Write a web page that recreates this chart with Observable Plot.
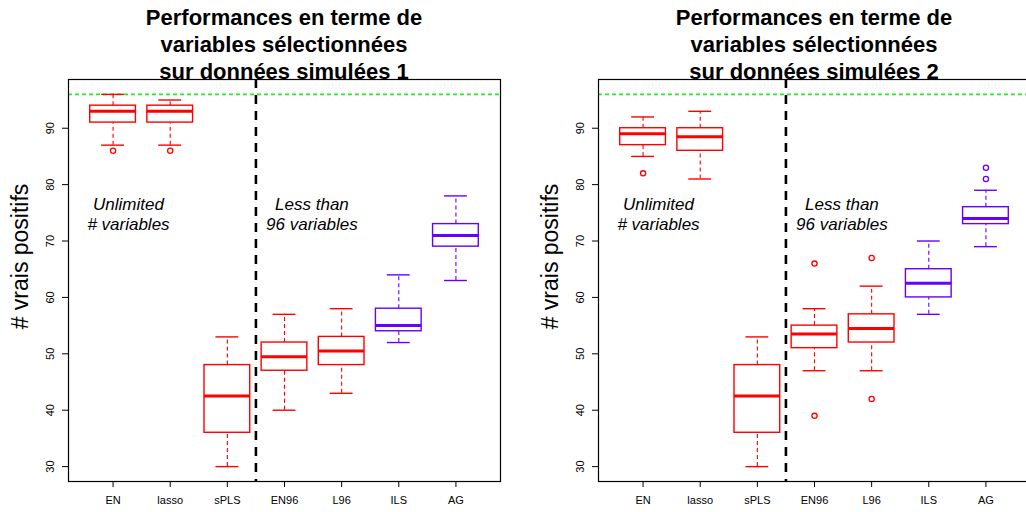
<!DOCTYPE html>
<html><head><meta charset="utf-8">
<script src="https://cdn.jsdelivr.net/npm/d3@7"></script>
<script src="https://cdn.jsdelivr.net/npm/@observablehq/plot@0.6"></script>
<style>
html,body{margin:0;padding:0;background:#fff;}
body{width:1026px;height:512px;overflow:hidden;position:relative;font-family:"Liberation Sans",Arial,Helvetica,sans-serif;}
.panel{position:absolute;top:0;}
.title{position:absolute;top:4px;font-weight:bold;font-size:22px;line-height:27px;text-align:center;white-space:nowrap;transform:translateX(-50%);color:#000;z-index:2;}
svg{display:block;max-width:none !important;}
</style></head><body>
<div id="p1" class="panel" style="left:0px;width:513px"></div>
<div id="p2" class="panel" style="left:513px;width:520px"></div>
<div class="title" style="left:284px">Performances en terme de<br>variables sélectionnées<br>sur données simulées 1</div>
<div class="title" style="left:814px">Performances en terme de<br>variables sélectionnées<br>sur données simulées 2</div>
<script>
// ---- data ----
const categories = ["EN", "lasso", "sPLS", "EN96", "L96", "ILS", "AG"];
const boxColors = ["#ff0000", "#ff0000", "#ff0000", "#ff0000", "#ff0000", "#6600ff", "#6600ff"];
const yTicks = [30, 40, 50, 60, 70, 80, 90];
const threshold = 96;
const yLabel = "# vrais positifs";
const noteLeft = "Unlimited\n# variables";
const noteRight = "Less than\n96 variables";

// simulated data 1
const lower1  = [87, 87, 30, 40, 43, 52, 63];
const q1_1    = [91, 91, 36, 47, 48, 54, 69];
const median1 = [93, 93, 42.5, 49.5, 50.5, 55, 71];
const q3_1    = [94, 94, 48, 52, 53, 58, 73];
const upper1  = [96, 95, 53, 57, 58, 64, 78];
const outliers1 = [[86], [86], [], [], [], [], []];

// simulated data 2
const lower2  = [85, 81, 30, 47, 47, 57, 69];
const q1_2    = [87, 86, 36, 51, 52, 60, 73];
const median2 = [89, 88.5, 42.5, 53.5, 54.5, 62.5, 74];
const q3_2    = [90, 90, 48, 55, 57, 65, 76];
const upper2  = [92, 93, 53, 58, 62, 70, 79];
const outliers2 = [[82], [], [], [39, 66], [42, 67], [], [81, 83]];

const FONT = '"Liberation Sans", Arial, Helvetica, sans-serif';

function makePanel(el, lower, q1, median, q3, upper, outliers, width, marginLeft, marginRight) {
  const rows = categories.map((c, i) => ({
    pos: i + 1, cat: c, lo: lower[i], q1: q1[i], med: median[i], q3: q3[i], hi: upper[i], color: boxColors[i]
  }));
  const outRows = [];
  outliers.forEach((arr, i) => arr.forEach(v => outRows.push({pos: i + 1, v, color: boxColors[i]})));
  const positions = categories.map((c, i) => i + 1);
  const sepPos = 3.5;
  const boxHalf = 0.4, stapleHalf = 0.2;

  const chart = Plot.plot({
    width, height: 512,
    marginLeft, marginRight, marginTop: 79, marginBottom: 31,
    x: {domain: [0.22, 7.78]},
    y: {domain: [27.36, 98.64]},
    color: {type: "identity"},
    style: {fontFamily: FONT, fontSize: "11px", background: "white", color: "black", maxWidth: "none"},
    marks: [
      Plot.ruleY([threshold], {stroke: "#22ee22", strokeWidth: 1.6, strokeDasharray: "4,3"}),
      Plot.ruleX([sepPos], {stroke: "#000", strokeWidth: 2.6, strokeDasharray: "9,7"}),
      // whiskers
      Plot.ruleX(rows, {x: "pos", y1: "q3", y2: "hi", stroke: "color", strokeWidth: 1.1, strokeDasharray: "4,3"}),
      Plot.ruleX(rows, {x: "pos", y1: "lo", y2: "q1", stroke: "color", strokeWidth: 1.1, strokeDasharray: "4,3"}),
      // staples
      Plot.ruleY(rows, {y: "hi", x1: d => d.pos - stapleHalf, x2: d => d.pos + stapleHalf, stroke: "color", strokeWidth: 1.4}),
      Plot.ruleY(rows, {y: "lo", x1: d => d.pos - stapleHalf, x2: d => d.pos + stapleHalf, stroke: "color", strokeWidth: 1.4}),
      // boxes
      Plot.rect(rows, {x1: d => d.pos - boxHalf, x2: d => d.pos + boxHalf, y1: "q1", y2: "q3", fill: "white", stroke: "color", strokeWidth: 1.4}),
      // medians
      Plot.ruleY(rows, {y: "med", x1: d => d.pos - boxHalf, x2: d => d.pos + boxHalf, stroke: "color", strokeWidth: 3}),
      // outliers
      Plot.dot(outRows, {x: "pos", y: "v", r: 2.6, stroke: "color", strokeWidth: 1.3, fill: "none"}),
      Plot.frame({stroke: "#000", strokeWidth: 1.2}),
      Plot.axisX({ticks: positions, tickFormat: i => categories[i - 1], tickSize: 6, tickPadding: 9, label: null, fontSize: 11}),
      Plot.axisY({ticks: yTicks, tickSize: 6, tickFormat: () => "", label: null}),
      Plot.text(yTicks, {y: d => d, text: d => String(d), frameAnchor: "left", dx: -18, rotate: -90, textAnchor: "middle", fontSize: 11}),
      Plot.text([yLabel], {frameAnchor: "left", dx: -48, dy: -24, rotate: -90, textAnchor: "middle", fontSize: 23}),
      Plot.text([noteLeft], {x: 1.27, y: 74.85, fontStyle: "italic", fontSize: 17, lineHeight: 1.18, textAnchor: "middle"}),
      Plot.text([noteRight], {x: 4.48, y: 74.85, fontStyle: "italic", fontSize: 17, lineHeight: 1.18, textAnchor: "middle"})
    ]
  });
  el.appendChild(chart);
}

makePanel(document.getElementById("p1"), lower1, q1_1, median1, q3_1, upper1, outliers1, 513, 68, 13);
makePanel(document.getElementById("p2"), lower2, q1_2, median2, q3_2, upper2, outliers2, 520, 85, 3);
</script>
</body></html>
